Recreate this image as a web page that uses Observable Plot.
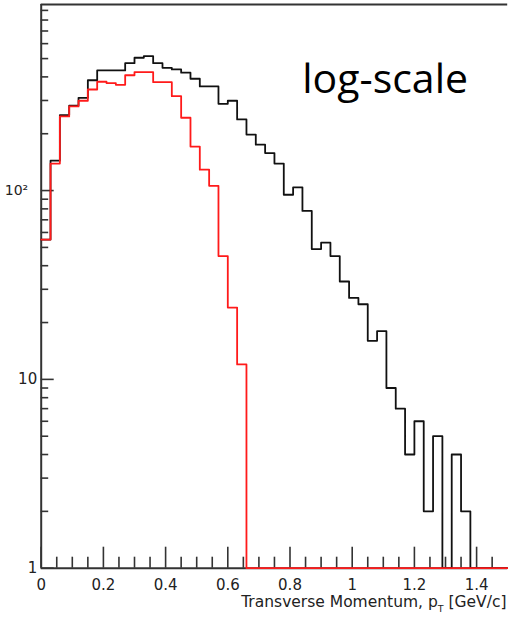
<!DOCTYPE html>
<html><head><meta charset="utf-8">
<script src="https://cdn.jsdelivr.net/npm/d3@7"></script>
<script src="https://cdn.jsdelivr.net/npm/@observablehq/plot@0.6"></script>
<style>body{margin:0;background:#fff;} svg{display:block}</style>
</head><body><div id="chart"></div>
<script>
// Histogram: bins of width 0.03 GeV/c from 0 to 1.5
const binStart = 0;
const binWidth = 0.03;
const allCounts = [55, 144, 251, 282, 310, 384, 433, 433, 433, 473,
                   505, 515, 473, 447, 438, 421, 391, 356, 356, 288,
                   299, 238, 198, 175, 158, 139, 95, 104, 78, 49,
                   53, 45, 33, 27, 25, 16, 18, 9, 7, 4,
                   6, 2, 5, 0, 4, 2, 0, 0, 0, 0];
const cutCounts = [55, 139, 247, 279, 299, 343, 377, 371, 363, 408,
                   424, 424, 375, 375, 316, 243, 171, 129, 106, 45,
                   24, 12, 0, 0, 0, 0, 0, 0, 0, 0,
                   0, 0, 0, 0, 0, 0, 0, 0, 0, 0,
                   0, 0, 0, 0, 0, 0, 0, 0, 0, 0];
const xMajorTicks = [0, 0.2, 0.4, 0.6, 0.8, 1, 1.2, 1.4];
const xTickLabels = ["0", "0.2", "0.4", "0.6", "0.8", "1", "1.2", "1.4"];
const xMinorTicks = [0.05, 0.1, 0.15, 0.25, 0.3, 0.35, 0.45, 0.5, 0.55, 0.65, 0.7, 0.75,
                     0.85, 0.9, 0.95, 1.05, 1.1, 1.15, 1.25, 1.3, 1.35, 1.45];
const yMajorTicks = [1, 10, 100];
const yTickLabels = ["1", "10", "10²"];
const yMinorTicks = [2, 3, 4, 5, 6, 7, 8, 9, 20, 30, 40, 50, 60, 70, 80, 90,
                     200, 300, 400, 500, 600, 700, 800, 900];
const xTitleMain = "Transverse Momentum, p";
const xTitleSub = "T";
const xTitleUnit = " [GeV/c]";
const annotation = "log-scale";

const W = 508, H = 620;
const mL = 40.7, mR = 0.8, mT = 4, mB = 52.3;
const innerH = H - mT - mB, innerW = W - mL - mR;
const yMin = 1, yMax = 967;

function steps(counts) {
  const pts = counts.map((c, i) => ({x: binStart + i * binWidth, y: Math.max(c, yMin)}));
  pts.push({x: binStart + counts.length * binWidth, y: Math.max(counts[counts.length - 1], yMin)});
  return pts;
}

const font = "DejaVu Sans";
const plot = Plot.plot({
  width: W, height: H,
  marginLeft: mL, marginRight: mR, marginTop: mT, marginBottom: mB,
  x: {domain: [0, 1.5], axis: null},
  y: {type: "log", domain: [yMin, yMax], axis: null},
  style: {background: "#fff"},
  marks: [
    // frame lines (left, top, bottom)
    Plot.ruleX([0], {stroke: "#333", strokeWidth: 2}),
    Plot.ruleY([yMax], {stroke: "#333", strokeWidth: 2}),
    Plot.ruleY([yMin], {stroke: "#333", strokeWidth: 2}),
    // x ticks (inward)
    Plot.tickX(xMajorTicks, {x: d => d, insetTop: innerH - 21, stroke: "#333", strokeWidth: 1.6}),
    Plot.tickX(xMinorTicks, {x: d => d, insetTop: innerH - 11, stroke: "#333", strokeWidth: 1.6}),
    // y ticks (inward)
    Plot.tickY(yMajorTicks, {y: d => d, insetRight: innerW - 13, stroke: "#333", strokeWidth: 1.6}),
    Plot.tickY(yMinorTicks, {y: d => d, insetRight: innerW - 7.5, stroke: "#333", strokeWidth: 1.6}),
    // histograms
    Plot.line(steps(allCounts), {x: "x", y: "y", curve: "step-after", stroke: "#111", strokeWidth: 1.8}),
    Plot.line(steps(cutCounts), {x: "x", y: "y", curve: "step-after", stroke: "#ff1a1a", strokeWidth: 1.8}),
    // tick labels
    Plot.text(xMajorTicks, {x: d => d, text: (d, i) => xTickLabels[i], frameAnchor: "bottom", dy: 16.5,
      lineAnchor: "middle", fontSize: 15, fontFamily: font, fill: "#222"}),
    Plot.text(yMajorTicks.slice(0, 2), {y: d => d, text: (d, i) => yTickLabels[i], frameAnchor: "left",
      textAnchor: "end", lineAnchor: "middle", dx: -4, fontSize: 15, fontFamily: font, fill: "#222"}),
    Plot.text(yMajorTicks.slice(2), {y: d => d, text: (d, i) => yTickLabels[i + 2], frameAnchor: "left",
      textAnchor: "end", lineAnchor: "middle", dx: -13, fontSize: 14, fontFamily: font, fill: "#222",
      letterSpacing: "-1px"}),
    // annotation
    Plot.text([annotation], {text: d => d, frameAnchor: "top-left", dx: 261, dy: 88, textAnchor: "start",
      lineAnchor: "bottom", fontSize: 41, fontFamily: "Open Sans", fill: "#000"})
  ]
});

const svg = d3.select(plot);
const t = svg.append("text")
  .attr("x", W - 1.5).attr("y", 607)
  .attr("text-anchor", "end")
  .attr("font-family", font).attr("font-size", 15.5).attr("fill", "#222");
t.append("tspan").text(xTitleMain);
t.append("tspan").attr("font-size", 9.5).attr("dy", 5).text(xTitleSub);
t.append("tspan").attr("dy", -5).text(xTitleUnit);

document.getElementById("chart").appendChild(plot);
</script>
</body></html>
